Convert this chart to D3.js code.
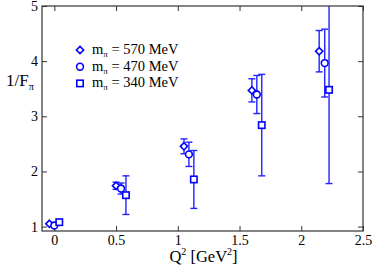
<!DOCTYPE html>
<html>
<head>
<script src="https://d3js.org/d3.v7.min.js"></script>
<style>
	body { margin: 0; background: #fff; }
	svg { display: block; font-family: "Liberation Serif", "DejaVu Serif", serif; }
</style>
</head>
<body>
<div id="chart"></div>
<script>
	// data: Q^2 position, 1/F_pi value, error
	var q570 = [-0.04, 0.50, 1.05, 1.60, 2.145];
	var f570 = [1.05, 1.74, 2.455, 3.47, 4.18];
	var e570 = [0, 0.065, 0.135, 0.21, 0.375];

	var q470 = [0.00, 0.54, 1.09, 1.64, 2.19];
	var f470 = [1.02, 1.69, 2.31, 3.395, 3.965];
	var e470 = [0, 0.10, 0.22, 0.345, 0.615];

	var q340 = [0.04, 0.58, 1.13, 1.68, 2.225];
	var f340 = [1.08, 1.57, 1.855, 2.84, 3.48];
	var e340 = [0, 0.35, 0.525, 0.92, 1.70];

	var xTicks = [0, 0.5, 1, 1.5, 2, 2.5];
	var yTicks = [1, 2, 3, 4, 5];
	var legendLabels = ["570", "470", "340"];

	var W = 373, H = 273;
	var margin = {top: 6, left: 42, right: 10, bottom: 42};
	var w = W - margin.left - margin.right;
	var h = H - margin.top - margin.bottom;
	var blue = "#0000ff";

	var svg = d3.select("#chart").append("svg")
		.attr("width", W)
		.attr("height", H);

	var x = d3.scaleLinear().domain([-0.1, 2.5]).range([0, w]);
	var y = d3.scaleLinear().domain([0.92, 5]).range([h, 0]);

	var g = svg.append("g").attr("transform", "translate(" + margin.left + "," + margin.top + ")");

	g.append("clipPath").attr("id", "clip")
		.append("rect").attr("width", w).attr("height", h);

	// axes, ticks inward on all four sides
	g.append("g").attr("transform", "translate(0," + h + ")")
		.call(d3.axisBottom(x).tickValues(xTicks).tickSizeInner(-5).tickSizeOuter(0).tickPadding(4)
			.tickFormat(function(d){ return d; }));
	g.append("g")
		.call(d3.axisTop(x).tickValues(xTicks).tickSizeInner(-5).tickSizeOuter(0).tickFormat(""));
	g.append("g")
		.call(d3.axisLeft(y).tickValues(yTicks).tickSizeInner(-5).tickSizeOuter(0).tickPadding(4)
			.tickFormat(d3.format("d")));
	g.append("g").attr("transform", "translate(" + w + ",0)")
		.call(d3.axisRight(y).tickValues(yTicks).tickSizeInner(-5).tickSizeOuter(0).tickFormat(""));

	g.selectAll(".domain").remove();
	g.selectAll(".tick line").attr("stroke", "#333");
	g.selectAll(".tick text").attr("font-size", 14).attr("fill", "#000")
		.attr("font-family", "Liberation Serif");

	g.append("rect")
		.attr("width", w).attr("height", h)
		.attr("fill", "none").attr("stroke", "#333").attr("stroke-width", 1.2);

	var series = [
		{q: q570, f: f570, e: e570, shape: "diamond"},
		{q: q470, f: f470, e: e470, shape: "circle"},
		{q: q340, f: f340, e: e340, shape: "square"}
	];

	function marker(sel, shape) {
		if (shape == "circle") {
			sel.append("circle").attr("r", 3.4);
		} else if (shape == "square") {
			sel.append("rect").attr("x", -3.2).attr("y", -3.2).attr("width", 6.4).attr("height", 6.4);
		} else {
			sel.append("path").attr("d", "M0,-3.6L3.6,0L0,3.6L-3.6,0Z");
		}
		sel.selectAll("*").attr("fill", "#fff").attr("stroke", blue).attr("stroke-width", 1.6);
	}

	var plot = g.append("g").attr("clip-path", "url(#clip)");

	series.forEach(function(s) {
		var pts = s.q.map(function(q, i){ return {q: q, f: s.f[i], e: s.e[i]}; });
		var bars = plot.append("g").selectAll("g")
			.data(pts.filter(function(d){ return d.e > 0; }))
			.enter().append("g")
			.attr("stroke", "#2222ff").attr("stroke-width", 1.4);
		bars.append("line")
			.attr("x1", function(d){ return x(d.q); }).attr("x2", function(d){ return x(d.q); })
			.attr("y1", function(d){ return y(d.f - d.e); }).attr("y2", function(d){ return y(d.f + d.e); });
		bars.append("line")
			.attr("x1", function(d){ return x(d.q) - 3.5; }).attr("x2", function(d){ return x(d.q) + 3.5; })
			.attr("y1", function(d){ return y(d.f - d.e); }).attr("y2", function(d){ return y(d.f - d.e); });
		bars.append("line")
			.attr("x1", function(d){ return x(d.q) - 3.5; }).attr("x2", function(d){ return x(d.q) + 3.5; })
			.attr("y1", function(d){ return y(d.f + d.e); }).attr("y2", function(d){ return y(d.f + d.e); });

		plot.append("g").selectAll("g")
			.data(pts)
			.enter().append("g")
			.attr("transform", function(d){ return "translate(" + x(d.q) + "," + y(d.f) + ")"; })
			.each(function(){ marker(d3.select(this), s.shape); });
	});

	// legend
	var leg = svg.append("g").attr("transform", "translate(80,50)");
	legendLabels.forEach(function(lab, i) {
		var row = leg.append("g").attr("transform", "translate(0," + (i * 16.7) + ")");
		marker(row.append("g"), series[i].shape);
		var t = row.append("text").attr("x", 12).attr("y", 4).attr("font-size", 14.5);
		t.append("tspan").text("m");
		t.append("tspan").attr("font-size", 9).attr("dy", 3).text("π");
		t.append("tspan").attr("dy", -3).text(" = " + lab + " MeV");
	});

	// axis titles
	var xt = svg.append("text")
		.attr("x", margin.left + w / 2 + 1).attr("y", 262)
		.attr("text-anchor", "middle").attr("font-size", 16.5);
	xt.append("tspan").text("Q");
	xt.append("tspan").attr("font-size", 10).attr("dy", -7).text("2");
	xt.append("tspan").attr("dy", 7).text(" [GeV");
	xt.append("tspan").attr("font-size", 10).attr("dy", -7).text("2");
	xt.append("tspan").attr("dy", 7).text("]");

	var yt = svg.append("text")
		.attr("x", 6).attr("y", 86).attr("font-size", 17);
	yt.append("tspan").text("1/F");
	yt.append("tspan").attr("font-size", 10).attr("dy", 4).text("π");
</script>
</body>
</html>
